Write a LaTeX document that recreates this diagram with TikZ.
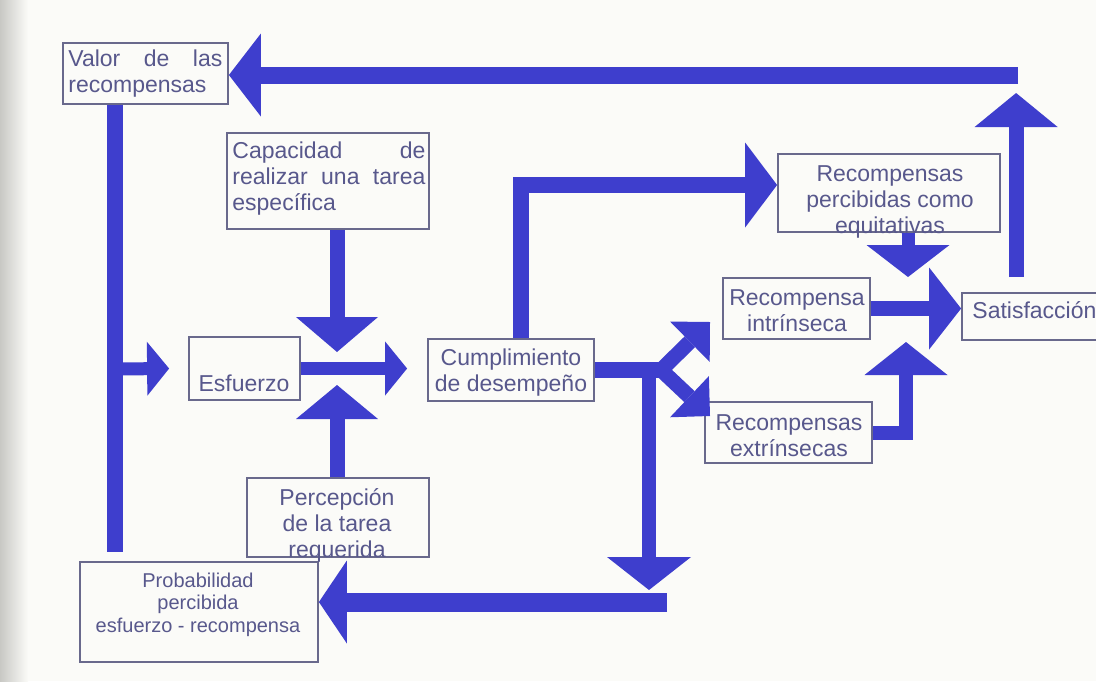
\documentclass[tikz,border=0pt]{standalone}
\usepackage{fontspec}
\setmainfont{Liberation Sans}
\usetikzlibrary{arrows.meta,fit,calc}
\definecolor{arrowblue}{RGB}{62,62,205}
\definecolor{txtcol}{RGB}{88,88,140}
\definecolor{boxcol}{RGB}{105,105,140}
\definecolor{paper}{RGB}{251,251,248}
\definecolor{edgegray}{RGB}{200,200,196}
\tikzset{
  box/.style={draw=boxcol, line width=0.9pt, inner sep=0pt},
  txt/.style={text=txtcol, inner sep=0pt, font=\fontsize{11.5pt}{13pt}\selectfont},
  smalltxt/.style={text=txtcol, inner sep=0pt, font=\fontsize{10pt}{11.25pt}\selectfont},
  barrow/.style args={#1/#2/#3}{draw=arrowblue, line width=#1, line join=miter,
     -{Triangle[width=#2,length=#3,line width=0pt]}},
  bline/.style={draw=arrowblue, line width=#1, line join=miter},
}
\begin{document}
\begin{tikzpicture}[x=0.5pt,y=-0.5pt]
\useasboundingbox (0,0) rectangle (1096,681);
\fill[paper] (0,0) rectangle (1096,681);
\shade[left color=edgegray, right color=paper] (0,0) rectangle (28,681);

% ---- boxes ----
\node[box, fit={(63,43) (228,104)}] (valor) {};
\node[box, fit={(227,133) (429,229)}] (capac) {};
\node[box, fit={(189,337) (300,400)}] (esf) {};
\node[box, fit={(428,339) (594,401)}] (cumpl) {};
\node[box, fit={(247,478) (429,557)}] (percep) {};
\node[box, fit={(80,562) (318,662)}] (prob) {};
\node[box, fit={(778,154) (1000,232)}] (percib) {};
\node[box, fit={(723,278) (870,339)}] (intr) {};
\node[box, fit={(705,402) (872,463)}] (extr) {};
\node[box, fit={(962,293) (1120,340)}] (satisf) {};

% ---- texts ----
\node[txt, text width=77pt, align=left, anchor=north west] (valor-t) at (68,47.8)
  {\strut Valor\hfill de\hfill las\\recompensas};
\node[txt, text width=96.5pt, align=left, anchor=north west] (capac-t) at (232,139.8)
  {\strut Capacidad\hfill de\\realizar\hfill una\hfill tarea\\específica};
\node[txt, anchor=base] (esf-t) at (244,391) {Esfuerzo};
\node[txt, align=center, anchor=north] (cumpl-t) at (511,346.8)
  {\strut Cumplimiento\\de desempeño};
\node[txt, align=center, anchor=north] (percep-t) at (337,486.8)
  {\strut Percepción\\de la tarea\\requerida};
\node[smalltxt, align=center, anchor=north] (prob-t) at (198,571.2)
  {\strut Probabilidad\\percibida\\esfuerzo - recompensa};
\node[txt, align=center, anchor=north] (percib-t) at (890,162.8)
  {\strut Recompensas\\percibidas como\\equitativas};
\node[txt, align=center, anchor=north] (intr-t) at (797,286.8)
  {\strut Recompensa\\intrínseca};
\node[txt, align=center, anchor=north] (extr-t) at (789,411.8)
  {\strut Recompensas\\extrínsecas};
\node[txt, anchor=base west] (satisf-t) at (972,318) {Satisfacción};

% ---- connectors ----
% Satisfaccion up, then back to Valor
\coordinate (upS) at ($(satisf.north west)+(55,-15)$);
\coordinate (upT) at (upS |- 0,93);
\draw[barrow=7.5pt/41.5pt/17pt] (upS) -- (upT);
\coordinate (topR) at (1018,75);
\draw[barrow=8.5pt/41.5pt/16pt] (topR) -- (topR -| valor.east);

% Valor down the left side towards Probabilidad
\coordinate (Lbr) at (116,369);
\draw[bline=8pt] ($(valor.south west)+(53,0)$) -- ($(prob.north west)+(36,-9)$);
\draw[barrow=6.5pt/27pt/11pt] (Lbr) -- ($(esf.west)+(-19,0)$);

% Esfuerzo -> Cumplimiento
\draw[barrow=6.5pt/27pt/11pt] (esf.east) -- ($(cumpl.west |- esf.east)+(-20,0)$);

% Capacidad down, Percepcion up
\coordinate (capS) at (337,229);
\coordinate (capT) at (337,352);
\draw[barrow=7.5pt/41pt/17.5pt] (capS |- capac.south) -- (capT);
\coordinate (perT) at (337,385);
\draw[barrow=7.5pt/41pt/17pt] (perT |- percep.north) -- (perT);

% Cumplimiento -> right junction
\coordinate (J) at (662,370);
\draw[bline=8pt] (cumpl.east) -- (J);
\draw[barrow=7pt/42pt/16.5pt] (649,362) -- (649,590);
\coordinate (BR) at (667,602);
\draw[barrow=9.5pt/41.5pt/14pt] (BR) -- (BR -| prob.east);
\draw[barrow=7.5pt/28.3pt/14.1pt] (658,373) -- (710,322);
\draw[barrow=7.5pt/28.3pt/14.1pt] (658,367) -- (710,416);

% Cumplimiento up -> Recompensas percibidas
\draw[barrow=8pt/42.5pt/16pt] ($(cumpl.north)+(10,0)$) |- ($(percib.west)+(0,-8)$);

% Recompensas percibidas down
\draw[barrow=6.5pt/41.5pt/16pt] ($(percib.south)+(19,0)$) -- (908,277);

% Recompensa intrinseca -> Satisfaccion
\draw[barrow=7.5pt/41pt/16pt] (intr.east) -- (intr.east -| satisf.west);

% Recompensas extrinsecas -> up
\draw[barrow=7pt/41.5pt/16.5pt] (extr.east) -| (906,342);
\end{tikzpicture}
\end{document}
